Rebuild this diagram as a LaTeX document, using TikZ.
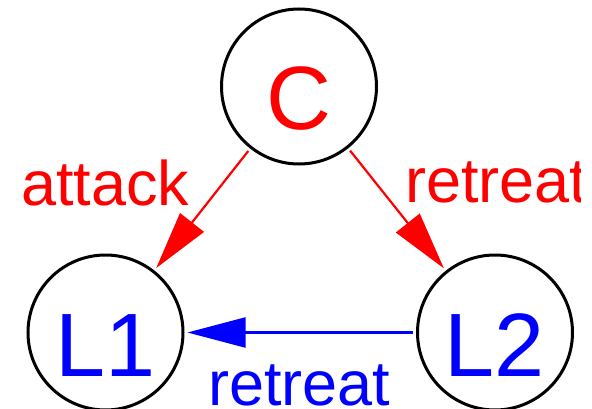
\documentclass[tikz,border=0pt]{standalone}
\usepackage{fontspec}
\setmainfont{Liberation Sans}
\usetikzlibrary{arrows.meta}
\definecolor{edgered}{RGB}{255,0,0}
\definecolor{edgeblue}{RGB}{0,0,255}
\tikzset{
  state/.style={circle, draw=black, line width=3pt, minimum size=155pt,
    inner sep=0pt, outer sep=4.5pt, text height=87pt, text depth=0pt,
    font=\fontsize{90}{100}\selectfont},
  move/.style={line width=2.2pt, -{Triangle[length=58pt,width=30pt]}},
  movelabel/.style={anchor=base west, inner sep=0pt,
    font=\fontsize{63}{70}\selectfont}
}
\begin{document}
\begin{tikzpicture}[x=1pt, y=-1pt]
  \useasboundingbox (0,0) rectangle (592,409);
  \clip (0,0) rectangle (580,409);
  % three players
  \node[state, text=edgered]  (C)  at (299,86.5) {C};
  \node[state, text=edgeblue] (L1) at (105.5,332.5) {L1};
  \node[state, text=edgeblue] (L2) at (495,332.5) {L2};
  % moves between them
  \draw[move, edgered]  (C)  -- (L1);
  \draw[move, edgered]  (C)  -- (L2);
  \draw[move, edgeblue] (L2) -- (L1);
  % move names
  \node[movelabel, text=edgered]  (attack)  at (21,205)  {attack};
  \node[movelabel, text=edgered]  (retreatR) at (405,203) {retreat};
  \node[movelabel, text=edgeblue] (retreatB) at (208,405) {retreat};
\end{tikzpicture}
\end{document}
